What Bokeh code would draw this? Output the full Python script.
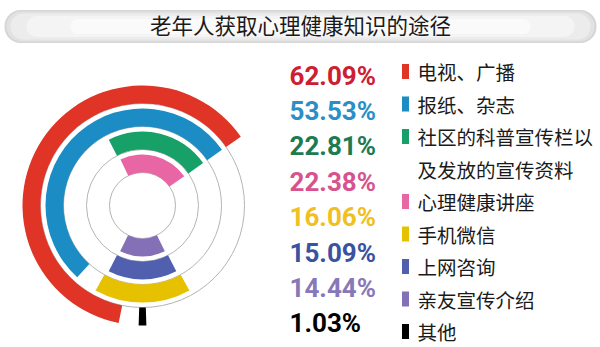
import numpy as np
from bokeh.plotting import figure
from bokeh.models import Range1d, ColumnDataSource
from bokeh.core.properties import value
from bokeh.embed import file_html
from bokeh.resources import INLINE

# ---------------- data ----------------
title = "老年人获取心理健康知识的途径"
categories = ["电视、广播", "报纸、杂志", "社区的科普宣传栏以\n及发放的宣传资料", "心理健康讲座",
              "手机微信", "上网咨询", "亲友宣传介绍", "其他"]
values = [62.09, 53.53, 22.81, 22.38, 16.06, 15.09, 14.44, 1.03]
pct_labels = ["62.09%", "53.53%", "22.81%", "22.38%", "16.06%", "15.09%", "14.44%", "1.03%"]
arc_colors = ["#e03426", "#1b8cc4", "#17a068", "#e766a3", "#e6c100", "#5060ae", "#8470b6", "#000000"]
text_colors = ["#cc2030", "#2a8fc6", "#1e7a50", "#d8528e", "#f0c020", "#3a52a0", "#8878b8", "#000000"]
ring_of = [3, 2, 1, 0, 2, 1, 0, 3]     # ring each category sits on (0 = innermost)
upper = [True, True, True, True, False, False, False, False]

# ---------------- layout ----------------
W, H = 600, 347
cx, cy = 142, H - 205
ring_inner = [33, 56, 79, 102]
ring_w = 18
deg_per_pct = 3.6            # 100 % = full circle
top_start = 35.0             # degrees, counter-clockwise from east
bottom_mid = 270.0

p = figure(width=W, height=H, output_backend="svg", toolbar_location=None,
           x_range=Range1d(0, W), y_range=Range1d(0, H), min_border=0)
p.axis.visible = False
p.grid.visible = False
p.outline_line_color = None
p.background_fill_color = "white"
p.border_fill_color = "white"

# title bar (layered rounded rects to fake a soft gradient)
bar_layers = [
    (592, 33, "#d6d6d6"),
    (588, 30, "#e2e2e2"),
    (580, 26, "#ececec"),
    (548, 21, "#f4f4f4"),
    (460, 15, "#fafafa"),
]
for w_, h_, c_ in bar_layers:
    p.rect(x=W / 2, y=H - 26, width=w_, height=h_, fill_color=c_, line_color=None,
           border_radius=int(h_ / 2))
p.text(x=[W / 2], y=[H - 24], text=[title], text_align="center", text_baseline="middle",
       text_font=value("Noto Sans CJK SC"), text_font_size="21.5px", text_color="#1a1a1a")

# guide circles
p.circle(x=[cx] * 4, y=[cy] * 4, radius=ring_inner, fill_color=None,
         line_color="#b4b4b4", line_width=1)

# arcs
starts, ends, inn, out = [], [], [], []
for v, r, up in zip(values, ring_of, upper):
    span = v * deg_per_pct
    if up:
        s, e = top_start, top_start + span
    else:
        s, e = bottom_mid - span / 2, bottom_mid + span / 2
    starts.append(np.deg2rad(s))
    ends.append(np.deg2rad(e))
    inn.append(ring_inner[r])
    out.append(ring_inner[r] + ring_w)
src = ColumnDataSource(dict(x=[cx] * len(values), y=[cy] * len(values), ir=inn, orr=out,
                            s=starts, e=ends, c=arc_colors))
p.annular_wedge(x="x", y="y", inner_radius="ir", outer_radius="orr", start_angle="s",
                end_angle="e", fill_color="c", line_color=None, source=src)

# percentages
pct_y = [H - (75 + 35.4 * i) for i in range(len(values))]
p.text(x=[289] * len(values), y=pct_y, text=pct_labels, text_color=text_colors,
       text_align="left", text_baseline="middle",
       text_font=value("Roboto"), text_font_style="bold", text_font_size="26px")

# legend labels (multi-line labels take extra rows)
lab_x, lab_y, lab_t = [], [], []
sq_y = []
row = 0
for cat in categories:
    lines = cat.split("\n")
    sq_y.append(H - (71 + 32.5 * row))
    for ln in lines:
        lab_x.append(417)
        lab_y.append(H - (71 + 32.5 * row))
        lab_t.append(ln)
        row += 1
p.rect(x=[405] * len(categories), y=sq_y, width=7, height=15, fill_color=arc_colors,
       line_color=None)
p.text(x=lab_x, y=lab_y, text=lab_t, text_align="left", text_baseline="middle",
       text_font=value("Noto Sans CJK SC"), text_font_size="19.5px", text_color="#1a1a1a")

open("out.html", "w").write(file_html(p, INLINE))
